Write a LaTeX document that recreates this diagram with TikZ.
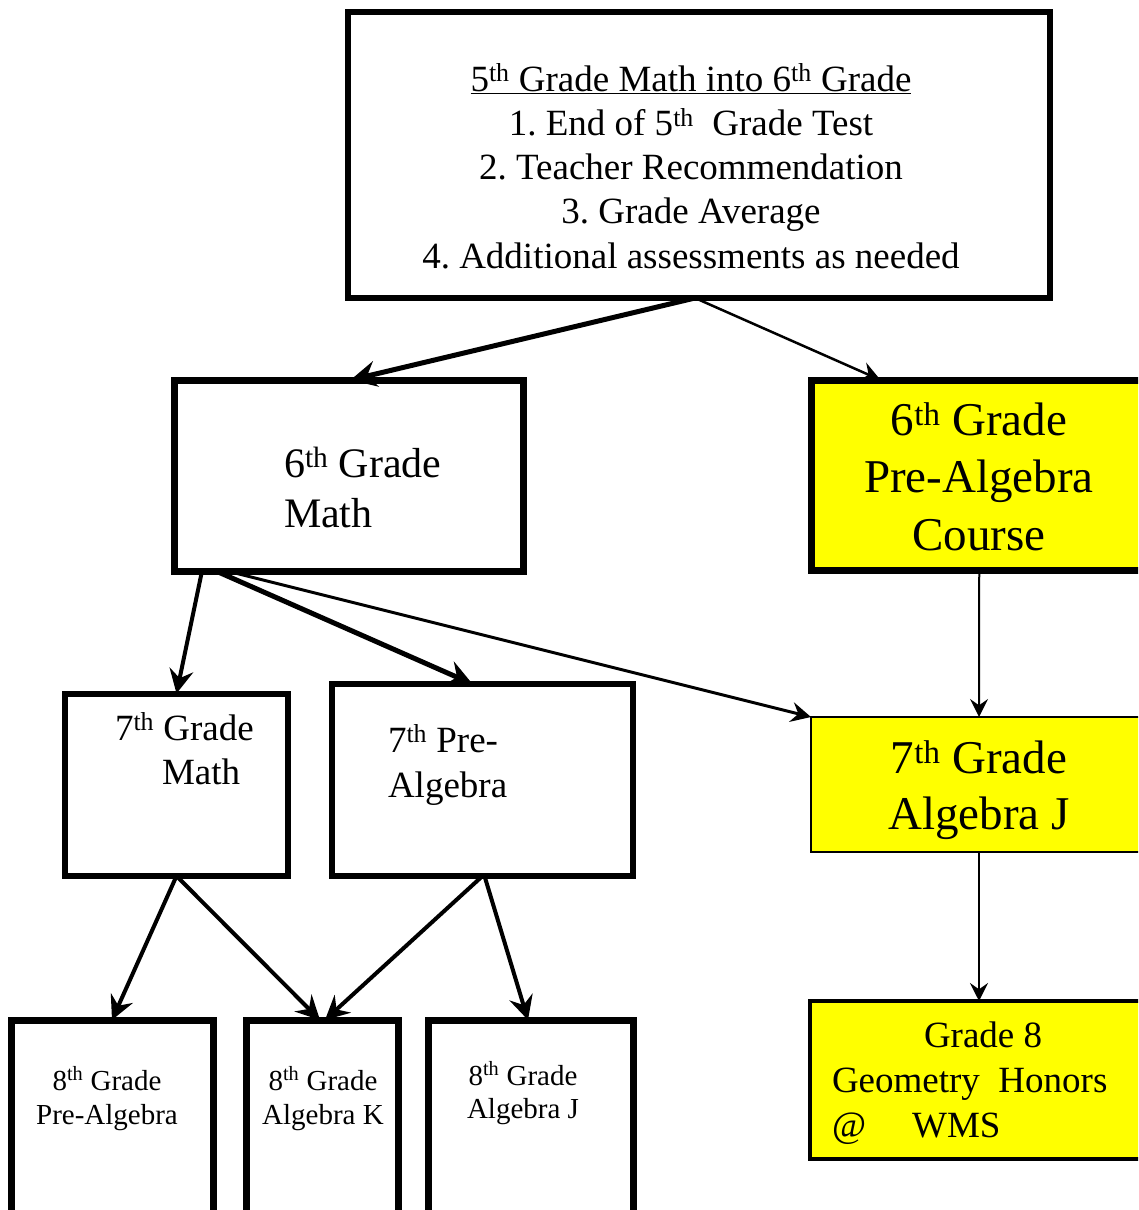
\documentclass[tikz,border=0pt]{standalone}
\usepackage{fontspec}
\setmainfont{Liberation Serif}
\usetikzlibrary{arrows.meta,calc}
\definecolor{hiyellow}{RGB}{255,255,0}
\tikzset{
  box/.style={draw=black, fill=white, inner sep=0pt, outer sep=0pt},
  ybox/.style={draw=black, fill=hiyellow, inner sep=0pt, outer sep=0pt},
  lbl/.style={inner sep=0pt, outer sep=0pt, execute at begin node=\frenchspacing},
  arrowtip/.style={-{Stealth[length=#1, width=#1, inset=0.35*#1]}},
  link/.style={draw=black, line cap=butt}
}
\newcommand{\fs}[2]{\fontsize{#1}{#2}\selectfont}
\newcommand{\thx}{\textsuperscript{th}}
\begin{document}
\begin{tikzpicture}[x=1pt,y=-1pt]
\useasboundingbox (0,0) rectangle (1138,1210);
\clip (0,0) rectangle (1138,1210);
\fill[white] (0,0) rectangle (1138,1210);

% boxes
\node[box, line width=6pt, minimum width=702pt, minimum height=286pt] (top) at (699,155) {};
\node[box, line width=7pt, minimum width=349pt, minimum height=191pt] (m6) at (348.5,475.5) {};
\node[ybox, line width=7pt, minimum width=338.5pt, minimum height=190pt] (y1) at (980.75,475) {};
\node[ybox, line width=2pt, minimum width=339pt, minimum height=135pt] (y2) at (980.5,784.5) {};
\node[ybox, line width=4pt, minimum width=340pt, minimum height=158pt] (y3) at (980,1080) {};
\node[box, line width=6pt, minimum width=223pt, minimum height=182.5pt] (g7) at (176.5,784.75) {};
\node[box, line width=6.5pt, minimum width=301pt, minimum height=192pt] (p7) at (482.5,780) {};
\node[box, line width=7pt, minimum width=202pt, minimum height=210pt] (e1) at (112,1125) {};
\node[box, line width=7pt, minimum width=152pt, minimum height=210pt] (e2) at (322,1125) {};
\node[box, line width=7pt, minimum width=205pt, minimum height=210pt] (e3) at (530.5,1125) {};

% texts (anchor=base is the baseline of the last line)
\node[lbl, align=center, anchor=base, font=\fs{37}{44.25}] (ttop) at (691,268)
  {\underline{5\thx{} Grade Math into 6\thx{} Grade}\\
   1. End of 5\thx{}\ \ Grade Test\\
   2. Teacher Recommendation\\
   3. Grade Average\\
   4. Additional assessments as needed};
\node[lbl, align=left, anchor=base west, font=\fs{42}{50}] (tm6) at (284,527)
  {6\thx{} Grade\\Math};
\node[lbl, align=center, anchor=base, font=\fs{47}{57.5}] (ty1) at (979,550)
  {6\thx{} Grade\\Pre-Algebra\\Course};
\node[lbl, align=center, anchor=base, font=\fs{47}{56}] (ty2) at (979,829)
  {7\thx{} Grade\\Algebra J};
\node[lbl, align=left, anchor=base west, font=\fs{37}{45}] (ty3) at (832,1137)
  {\hspace*{92pt}Grade 8\\Geometry\ \ Honors\\@\hspace{46pt}WMS};
\node[lbl, align=left, anchor=base west, font=\fs{37}{44}] (tg7) at (115,784)
  {7\thx{} Grade\\\hspace*{47pt}Math};
\node[lbl, align=left, anchor=base west, font=\fs{37}{45}] (tp7) at (388,797)
  {7\thx{} Pre-\\Algebra};
\node[lbl, align=center, anchor=base, font=\fs{29}{34}] (te1) at (107,1124)
  {8\thx{} Grade\\Pre-Algebra};
\node[lbl, align=center, anchor=base, font=\fs{29}{34}] (te2) at (323,1124)
  {8\thx{} Grade\\Algebra K};
\node[lbl, align=center, anchor=base, font=\fs{29}{33}] (te3) at (523,1118)
  {8\thx{} Grade\\Algebra J};

% connectors
\draw[link, line width=5pt, arrowtip=26pt] ([xshift=-4pt]top.south) -- ([xshift=2pt]m6.north);
\draw[link, line width=2.5pt, arrowtip=20pt] ([xshift=-4pt]top.south) -- ([xshift=69pt]y1.north west);
\draw[link, line width=4pt, arrowtip=24pt] ([xshift=28pt]m6.south west) -- (g7.north);
\draw[link, line width=5pt, arrowtip=26pt] ([xshift=42pt]m6.south west) -- ([xshift=-10pt]p7.north);
\draw[link, line width=3pt, arrowtip=20pt] ([xshift=53pt]m6.south west) -- (y2.north west);
\draw[link, line width=2pt, arrowtip=18pt] ([xshift=-1.5pt]y1.south) -- ([xshift=-1.5pt]y2.north);
\draw[link, line width=2pt, arrowtip=18pt] ([xshift=-1.5pt]y2.south) -- ([xshift=-1pt]y3.north);
\draw[link, line width=4pt, arrowtip=24pt] (g7.south) -- (e1.north);
\draw[link, line width=4pt, arrowtip=24pt] (g7.south) -- ([xshift=-2pt]e2.north);
\draw[link, line width=4pt, arrowtip=24pt] (p7.south) -- ([xshift=3pt]e2.north);
\draw[link, line width=4pt, arrowtip=24pt] ([xshift=2pt]p7.south) -- ([xshift=-2.5pt]e3.north);
\end{tikzpicture}
\end{document}
